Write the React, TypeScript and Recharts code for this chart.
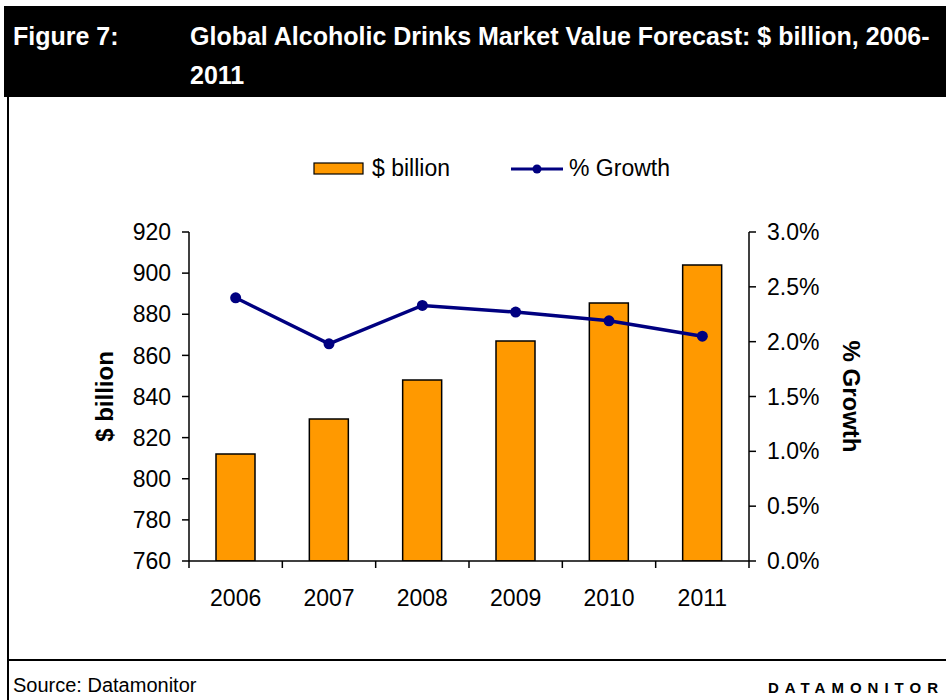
import React from "react";
import {
  ComposedChart,
  Bar,
  Line,
  XAxis,
  YAxis,
  Legend,
} from "recharts";

const YEARS = ["2006", "2007", "2008", "2009", "2010", "2011"];
const VALUE_BN = [812, 829, 848, 867, 885.5, 904];
const GROWTH_PCT = [2.4, 1.98, 2.33, 2.27, 2.19, 2.05];
const LEFT_TICKS = [760, 780, 800, 820, 840, 860, 880, 900, 920];
const RIGHT_TICKS = [0, 0.5, 1, 1.5, 2, 2.5, 3];

const BAR_NAME = "$ billion";
const LINE_NAME = "% Growth";

const data = YEARS.map((year, i) => ({
  year,
  value: VALUE_BN[i],
  growth: GROWTH_PCT[i],
}));

const FONT = '"Liberation Sans", Arial, sans-serif';
const W = 946;
const H = 700;
const LEFT_W = 189;
const RIGHT_W = 197;
const PLOT_W = W - LEFT_W - RIGHT_W;
const ORANGE = "#FF9900";
const NAVY = "#000080";

// category labels centred, tick marks on the band edges (Excel style)
function YearTick(props: any) {
  const { x, y, payload, index } = props;
  const half = PLOT_W / YEARS.length / 2;
  return (
    <g>
      <line x1={x - half} y1={y} x2={x - half} y2={y + 7} stroke="#000" strokeWidth={1.5} />
      {index === YEARS.length - 1 && (
        <line x1={x + half} y1={y} x2={x + half} y2={y + 7} stroke="#000" strokeWidth={1.5} />
      )}
      <text x={x} y={y + 45} textAnchor="middle" fontSize={23} fontFamily={FONT} fill="#000">
        {payload.value}
      </text>
    </g>
  );
}

function LegendBox() {
  return (
    <svg width={W} height={30} style={{ display: "block" }}>
      <rect x={314} y={9} width={49} height={11} fill={ORANGE} stroke="#000" strokeWidth={1.2} />
      <text x={372} y={22} fontSize={23} fontFamily={FONT} fill="#000">
        {BAR_NAME}
      </text>
      <line x1={511} y1={15} x2={563} y2={15} stroke={NAVY} strokeWidth={3} />
      <circle cx={537} cy={15} r={4.5} fill={NAVY} />
      <text x={569} y={22} fontSize={23} fontFamily={FONT} fill="#000">
        {LINE_NAME}
      </text>
    </svg>
  );
}

export default function App() {
  const axisStroke = { stroke: "#000", strokeWidth: 1.5 };
  const tickStyle = { fill: "#000", fontSize: 23, fontFamily: FONT };

  return (
    <div style={{ position: "absolute", left: 0, top: 0, width: W, height: H, background: "#fff", fontFamily: FONT, overflow: "hidden" }}>
      <div style={{ position: "absolute", left: 0, top: 0 }}>
        <ComposedChart
          width={W}
          height={H}
          data={data}
          margin={{ top: 232, right: 0, bottom: 79, left: 0 }}
        >
          <XAxis
            dataKey="year"
            height={60}
            axisLine={axisStroke}
            tickLine={false}
            tickSize={0}
            tickMargin={0}
            tick={<YearTick />}
            interval={0}
          />
          <YAxis
            yAxisId="left"
            width={LEFT_W}
            domain={[760, 920]}
            ticks={LEFT_TICKS}
            allowDataOverflow
            axisLine={axisStroke}
            tickLine={axisStroke}
            tickSize={7}
            tickMargin={11}
            tick={tickStyle}
            label={{
              content: (p: any) => {
                const vb = p.viewBox;
                const cy = vb.y + vb.height / 2;
                return (
                  <text
                    transform={`translate(${vb.x + 104}, ${cy}) rotate(-90)`}
                    textAnchor="middle"
                    dominantBaseline="central"
                    fontSize={24}
                    fontWeight="bold"
                    fontFamily={FONT}
                    fill="#000"
                  >
                    {BAR_NAME}
                  </text>
                );
              },
            }}
          />
          <YAxis
            yAxisId="right"
            orientation="right"
            width={RIGHT_W}
            domain={[0, 3]}
            ticks={RIGHT_TICKS}
            axisLine={axisStroke}
            tickLine={axisStroke}
            tickSize={7}
            tickMargin={11}
            tick={tickStyle}
            tickFormatter={(v: number) => `${v.toFixed(1)}%`}
            label={{
              content: (p: any) => {
                const vb = p.viewBox;
                const cy = vb.y + vb.height / 2;
                return (
                  <text
                    transform={`translate(${vb.x + 102}, ${cy}) rotate(90)`}
                    textAnchor="middle"
                    dominantBaseline="central"
                    fontSize={24}
                    fontWeight="bold"
                    fontFamily={FONT}
                    fill="#000"
                  >
                    {LINE_NAME}
                  </text>
                );
              },
            }}
          />
          <Legend
            layout="vertical"
            align="center"
            verticalAlign="middle"
            wrapperStyle={{ left: 0, top: 154, width: W, height: 30 }}
            content={() => <LegendBox />}
          />
          <Bar
            yAxisId="left"
            dataKey="value"
            name={BAR_NAME}
            fill={ORANGE}
            stroke="#000"
            strokeWidth={1.5}
            barSize={39}
            isAnimationActive={false}
          />
          <Line
            yAxisId="right"
            dataKey="growth"
            name={LINE_NAME}
            stroke={NAVY}
            strokeWidth={3.5}
            dot={{ r: 5.5, fill: NAVY, stroke: NAVY, strokeWidth: 0 }}
            activeDot={false}
            isAnimationActive={false}
          />
        </ComposedChart>
      </div>

      {/* header band */}
      <div style={{ position: "absolute", left: 4, top: 6, width: W - 4, height: 91, background: "#000", color: "#fff", fontWeight: "bold", fontSize: 25 }}>
        <div style={{ position: "absolute", left: 9, top: 16, lineHeight: "28px" }}>Figure 7:</div>
        <div style={{ position: "absolute", left: 186, top: 16, whiteSpace: "nowrap" }}>
          <div style={{ height: 39, lineHeight: "28px" }}>Global Alcoholic Drinks Market Value Forecast: $ billion, 2006-</div>
          <div style={{ lineHeight: "28px" }}>2011</div>
        </div>
      </div>

      {/* frame */}
      <div style={{ position: "absolute", left: 7, top: 97, width: 2, height: H - 97, background: "#000" }} />
      <div style={{ position: "absolute", left: 7, top: 659, width: W - 7, height: 2, background: "#000" }} />

      {/* footer */}
      <div style={{ position: "absolute", left: 13, top: 673, fontSize: 20, lineHeight: "24px", color: "#000" }}>
        Source: Datamonitor
      </div>
      <div style={{ position: "absolute", left: 768, top: 678, fontSize: 15, lineHeight: "20px", fontWeight: "bold", letterSpacing: 6, whiteSpace: "nowrap", color: "#000" }}>
        DATAMONITOR
      </div>
    </div>
  );
}
